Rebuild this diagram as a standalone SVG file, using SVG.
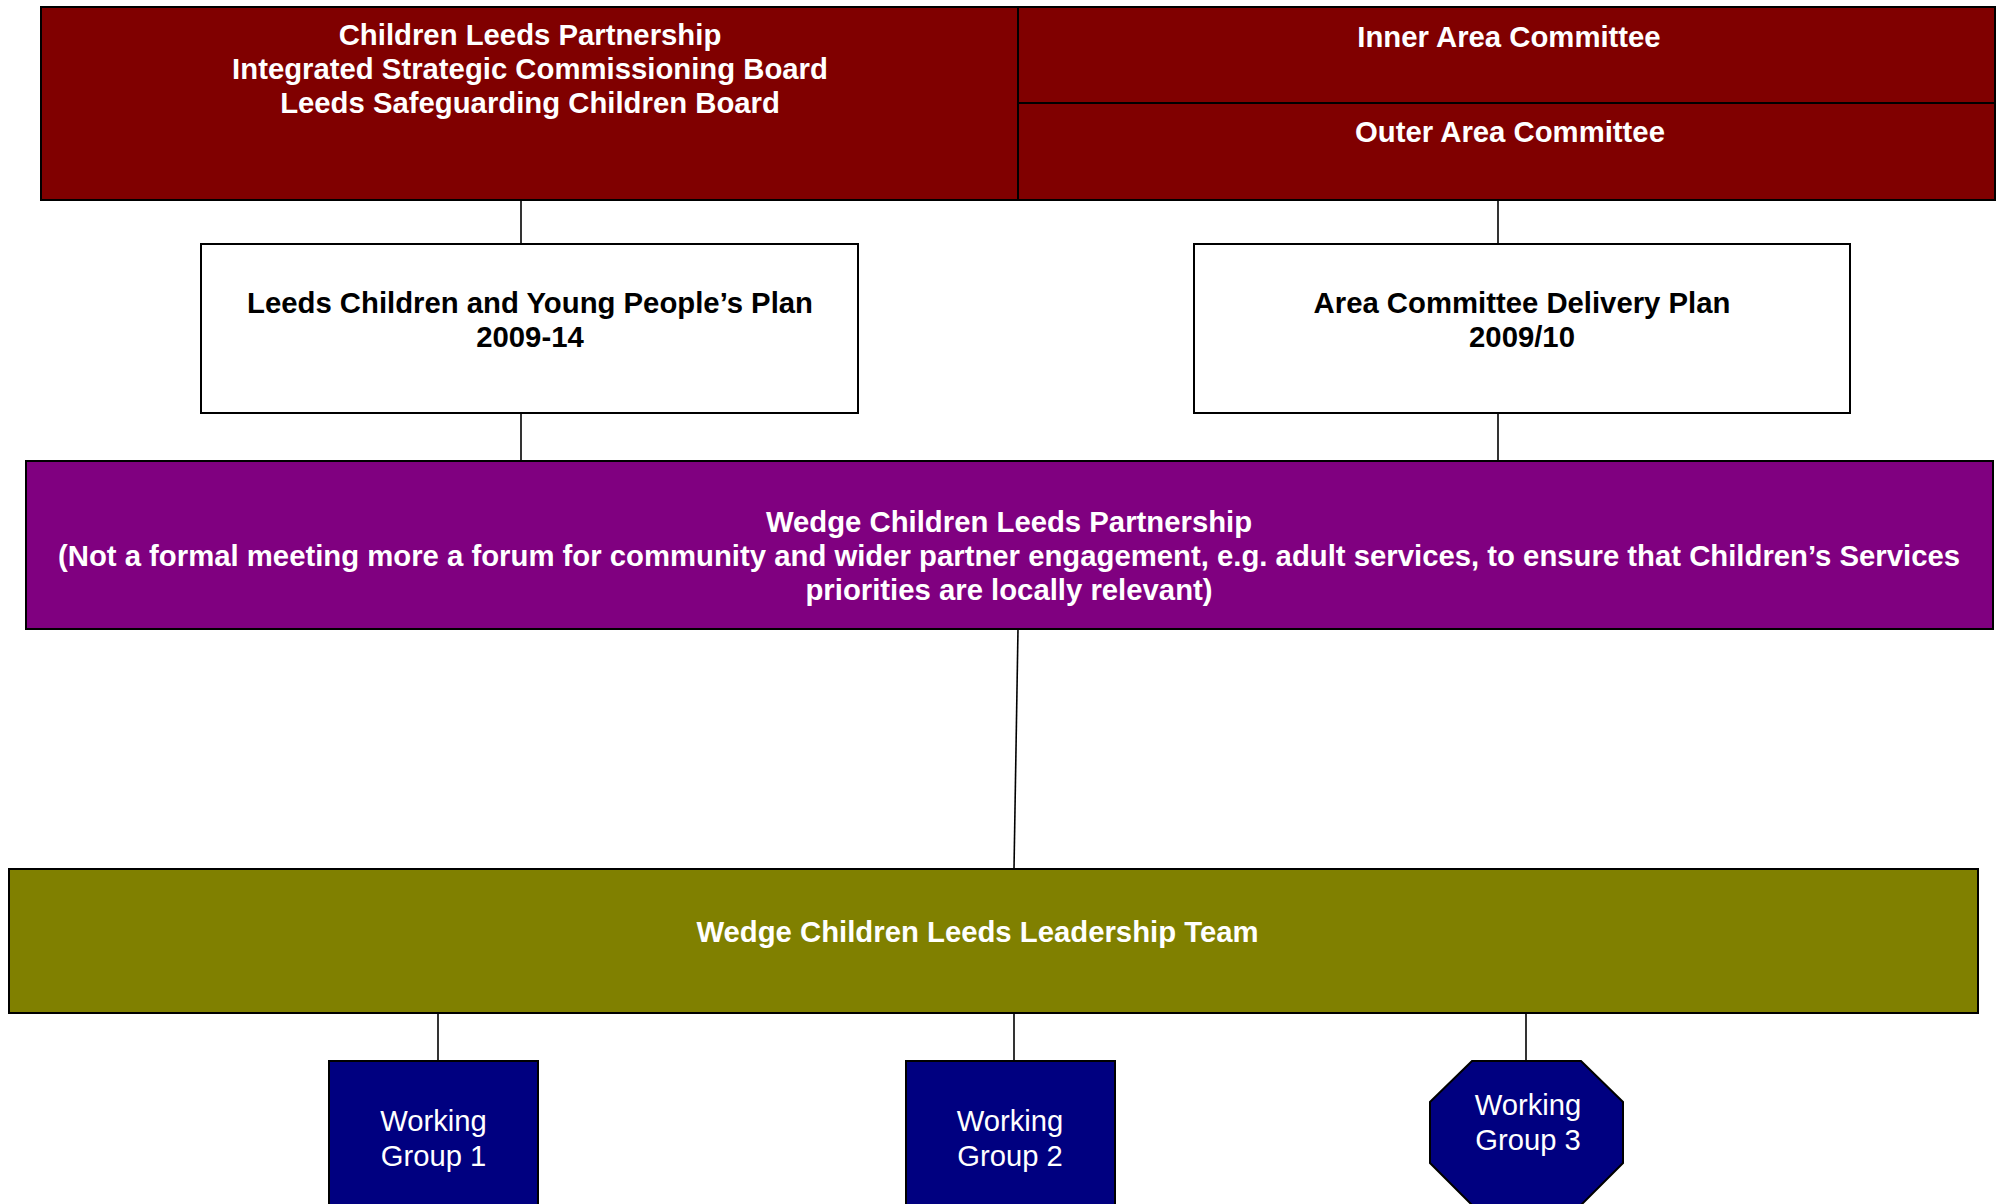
<svg xmlns="http://www.w3.org/2000/svg" width="1997" height="1204" viewBox="0 0 1997 1204">
<style>
.box{stroke:#000;stroke-width:2}
.b{font-family:"Liberation Sans",Arial,sans-serif;font-weight:bold;font-size:29.3px;text-anchor:middle}
.r{font-family:"Liberation Sans",Arial,sans-serif;font-size:29.2px;text-anchor:middle;fill:#fff}
.w{fill:#fff}
.k{fill:#000}
.c{stroke:#000;stroke-width:1.6;fill:none}
</style>
<rect width="1997" height="1204" fill="#fff"/>
<g id="connectors">
<line class="c" x1="521" y1="200" x2="521" y2="244"/>
<line class="c" x1="521" y1="413" x2="521" y2="461"/>
<line class="c" x1="1498" y1="200" x2="1498" y2="244"/>
<line class="c" x1="1498" y1="413" x2="1498" y2="461"/>
<line class="c" x1="1018" y1="629" x2="1014" y2="869"/>
<line class="c" x1="438" y1="1013" x2="438" y2="1061"/>
<line class="c" x1="1014" y1="1013" x2="1014" y2="1061"/>
<line class="c" x1="1526" y1="1013" x2="1526" y2="1061"/>
</g>
<g id="node-partnership">
<rect class="box" x="41" y="7" width="977" height="193" fill="#800000"/>
<text class="b w" x="530" y="44.5">Children Leeds Partnership</text>
<text class="b w" x="530" y="78.5">Integrated Strategic Commissioning Board</text>
<text class="b w" x="530" y="112.5">Leeds Safeguarding Children Board</text>
</g>
<g id="node-inner">
<rect class="box" x="1018" y="7" width="977" height="96" fill="#800000"/>
<text class="b w" x="1509" y="47">Inner Area Committee</text>
</g>
<g id="node-outer">
<rect class="box" x="1018" y="103" width="977" height="97" fill="#800000"/>
<text class="b w" x="1510" y="141.5">Outer Area Committee</text>
</g>
<g id="node-cypp">
<rect class="box" x="201" y="244" width="657" height="169" fill="#fff"/>
<text class="b k" x="530" y="313">Leeds Children and Young People’s Plan</text>
<text class="b k" x="530" y="347">2009-14</text>
</g>
<g id="node-acdp">
<rect class="box" x="1194" y="244" width="656" height="169" fill="#fff"/>
<text class="b k" x="1522" y="313">Area Committee Delivery Plan</text>
<text class="b k" x="1522" y="347">2009/10</text>
</g>
<g id="node-wedge-partnership">
<rect class="box" x="26" y="461" width="1967" height="168" fill="#800080"/>
<text class="b w" x="1009" y="532">Wedge Children Leeds Partnership</text>
<text class="b w" x="1009" y="566">(Not a formal meeting more a forum for community and wider partner engagement, e.g. adult services, to ensure that Children’s Services</text>
<text class="b w" x="1009" y="600">priorities are locally relevant)</text>
</g>
<g id="node-leadership">
<rect class="box" x="9" y="869" width="1969" height="144" fill="#808000"/>
<text class="b w" x="977.5" y="941.5">Wedge Children Leeds Leadership Team</text>
</g>
<g id="node-wg1">
<rect class="box" x="329" y="1061" width="209" height="150" fill="#000080"/>
<text class="r" x="433.5" y="1131">Working</text>
<text class="r" x="433.5" y="1165.5">Group 1</text>
</g>
<g id="node-wg2">
<rect class="box" x="906" y="1061" width="209" height="150" fill="#000080"/>
<text class="r" x="1010" y="1131">Working</text>
<text class="r" x="1010" y="1165.5">Group 2</text>
</g>
<g id="node-wg3">
<polygon class="box" points="1472,1061 1581,1061 1623,1102 1623,1163 1581,1205 1472,1205 1430,1163 1430,1102" fill="#000080"/>
<text class="r" x="1528" y="1115">Working</text>
<text class="r" x="1528" y="1149.5">Group 3</text>
</g>
</svg>
